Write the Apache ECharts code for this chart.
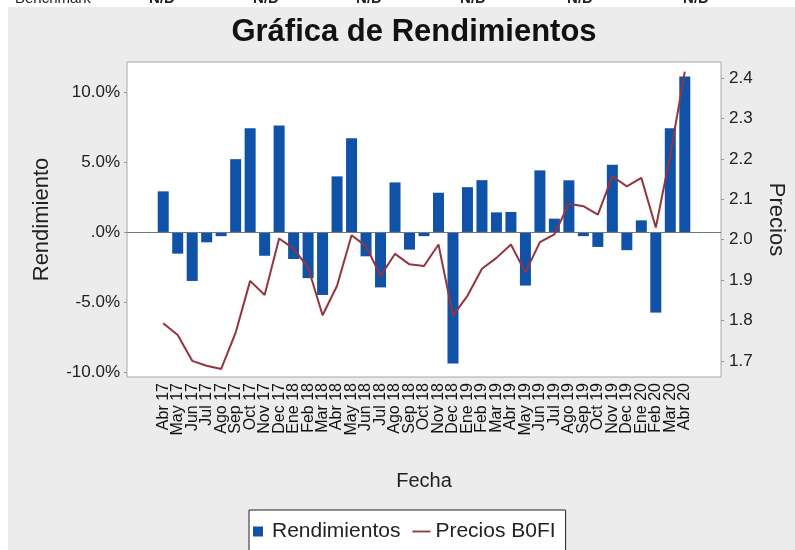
<!DOCTYPE html>
<html>
<head>
<meta charset="utf-8">
<script src="https://cdn.jsdelivr.net/npm/echarts@6/dist/echarts.min.js"></script>
<style>
html, body { margin: 0; padding: 0; background: #fff; }
#chart { width: 795px; height: 550px; }
</style>
</head>
<body>
<div id="chart"></div>
<script>
// meses del eje X
const meses = ['Abr 17', 'May 17', 'Jun 17', 'Jul 17', 'Ago 17', 'Sep 17', 'Oct 17', 'Nov 17', 'Dec 17',
    'Ene 18', 'Feb 18', 'Mar 18', 'Abr 18', 'May 18', 'Jun 18', 'Jul 18', 'Ago 18', 'Sep 18', 'Oct 18', 'Nov 18', 'Dec 18',
    'Ene 19', 'Feb 19', 'Mar 19', 'Abr 19', 'May 19', 'Jun 19', 'Jul 19', 'Ago 19', 'Sep 19', 'Oct 19', 'Nov 19', 'Dec 19',
    'Ene 20', 'Feb 20', 'Mar 20', 'Abr 20'];
// rendimiento mensual (%)
const rendimientos = [2.9, -1.55, -3.5, -0.74, -0.3, 5.2, 7.4, -1.7, 7.6,
    -1.93, -3.3, -4.5, 3.97, 6.7, -1.74, -3.96, 3.54, -1.26, -0.3, 2.8, -9.4,
    3.2, 3.7, 1.4, 1.43, -3.83, 4.4, 0.95, 3.69, -0.3, -1.07, 4.8, -1.3,
    0.83, -5.76, 7.4, 11.1];
// precio de cierre
const precios = [1.793, 1.764, 1.70, 1.688, 1.68, 1.77, 1.898, 1.863, 2.003,
    1.978, 1.931, 1.813, 1.886, 2.011, 1.984, 1.91, 1.965, 1.939, 1.935, 1.988, 1.812,
    1.861, 1.928, 1.955, 1.988, 1.919, 1.994, 2.013, 2.089, 2.083, 2.062, 2.157, 2.132,
    2.153, 2.03, 2.21, 2.416];
// fila de la tabla de arriba (cortada)
const filaBenchmark = ['Benchmark', 'N/D', 'N/D', 'N/D', 'N/D', 'N/D', 'N/D'];

// dos categorias vacias a cada lado para dejar margen dentro del marco
const pad = ['', ''];
const cats = pad.concat(meses, pad);
const padData = ['-', '-'];
const barData = padData.concat(rendimientos, padData);
const lineData = padData.concat(precios, padData);

const font = '"Liberation Sans", Arial, sans-serif';
const posTabla = [15, 162, 266, 369, 473, 580, 696];

let chart = echarts.init(document.getElementById('chart'));
chart.setOption({
    backgroundColor: '#ececec',
    animation: false,
    textStyle: { fontFamily: font },
    title: {
        text: 'Gráfica de Rendimientos',
        left: 409,
        textAlign: 'center',
        top: 12,
        textStyle: { fontFamily: font, fontSize: 31, fontWeight: 'bold', color: '#111' }
    },
    graphic: [
        { type: 'rect', left: 0, top: 0, shape: { width: 795, height: 7 }, style: { fill: '#fff' }, z: 100 },
        { type: 'rect', left: 0, top: 0, shape: { width: 8, height: 550 }, style: { fill: '#fff' }, z: 100 }
    ].concat(filaBenchmark.map((t, i) => ({
        type: 'text',
        x: posTabla[i],
        y: 6,
        z: 101,
        style: {
            text: t,
            font: (i ? 'bold ' : '') + '15px ' + font,
            fill: '#222',
            textAlign: i ? 'center' : 'left',
            textVerticalAlign: 'bottom'
        }
    }))),
    legend: {
        left: 249,
        top: 510,
        backgroundColor: '#fff',
        borderColor: '#222',
        borderWidth: 1,
        borderRadius: 0,
        padding: [11, 10, 14, 4],
        itemWidth: 18,
        itemHeight: 10,
        itemGap: 12,
        textStyle: { fontSize: 21, color: '#222', fontFamily: font },
        data: [
            { name: 'Rendimientos', icon: 'path://M0,0H10V10H0Z' },
            { name: 'Precios B0FI', icon: 'path://M0,0H20V2H0Z' }
        ]
    },
    grid: {
        left: 127,
        right: 72,
        top: 62,
        bottom: 173,
        show: true,
        backgroundColor: '#fff',
        borderColor: '#a8a8a8',
        borderWidth: 1
    },
    xAxis: {
        type: 'category',
        data: cats,
        name: 'Fecha',
        nameLocation: 'middle',
        nameGap: 94,
        nameTextStyle: { fontSize: 20, color: '#222' },
        axisLine: { show: false },
        axisTick: { show: false },
        axisLabel: {
            rotate: 90,
            interval: 0,
            fontSize: 16,
            color: '#111',
            margin: 6
        }
    },
    yAxis: [
        {
            type: 'value',
            min: -10.36,
            max: 12.14,
            name: 'Rendimiento',
            nameLocation: 'middle',
            nameGap: 74,
            nameTextStyle: { fontSize: 22, color: '#222' },
            splitLine: { show: false },
            axisLine: { show: false },
            axisTick: { show: true, length: 3, lineStyle: { color: '#999' } },
            axisLabel: {
                showMinLabel: false,
                showMaxLabel: false,
                fontSize: 17,
                color: '#222',
                margin: 7,
                formatter: v => v === 0 ? '.0%' : v.toFixed(1) + '%'
            }
        },
        {
            type: 'value',
            min: 1.66,
            max: 2.44,
            splitNumber: 8,
            name: 'Precios',
            nameLocation: 'middle',
            nameRotate: -90,
            nameGap: 44,
            nameTextStyle: { fontSize: 22, color: '#222' },
            splitLine: { show: false },
            axisLine: { show: false },
            axisTick: { show: true, length: 3, lineStyle: { color: '#999' } },
            axisLabel: {
                showMinLabel: false,
                showMaxLabel: false,
                fontSize: 17,
                color: '#222',
                margin: 8,
                formatter: v => v.toFixed(1)
            }
        }
    ],
    series: [
        {
            name: 'Rendimientos',
            type: 'bar',
            yAxisIndex: 0,
            barWidth: 11,
            data: barData,
            itemStyle: { color: '#1052a8' },
            markLine: {
                silent: true,
                symbol: 'none',
                label: { show: false },
                lineStyle: { color: '#777', width: 1, type: 'solid' },
                data: [{ yAxis: 0 }]
            }
        },
        {
            name: 'Precios B0FI',
            type: 'line',
            yAxisIndex: 1,
            data: lineData,
            symbol: 'none',
            z: 5,
            lineStyle: { color: '#93343f', width: 2 },
            itemStyle: { color: '#93343f' }
        }
    ]
});
</script>
</body>
</html>
